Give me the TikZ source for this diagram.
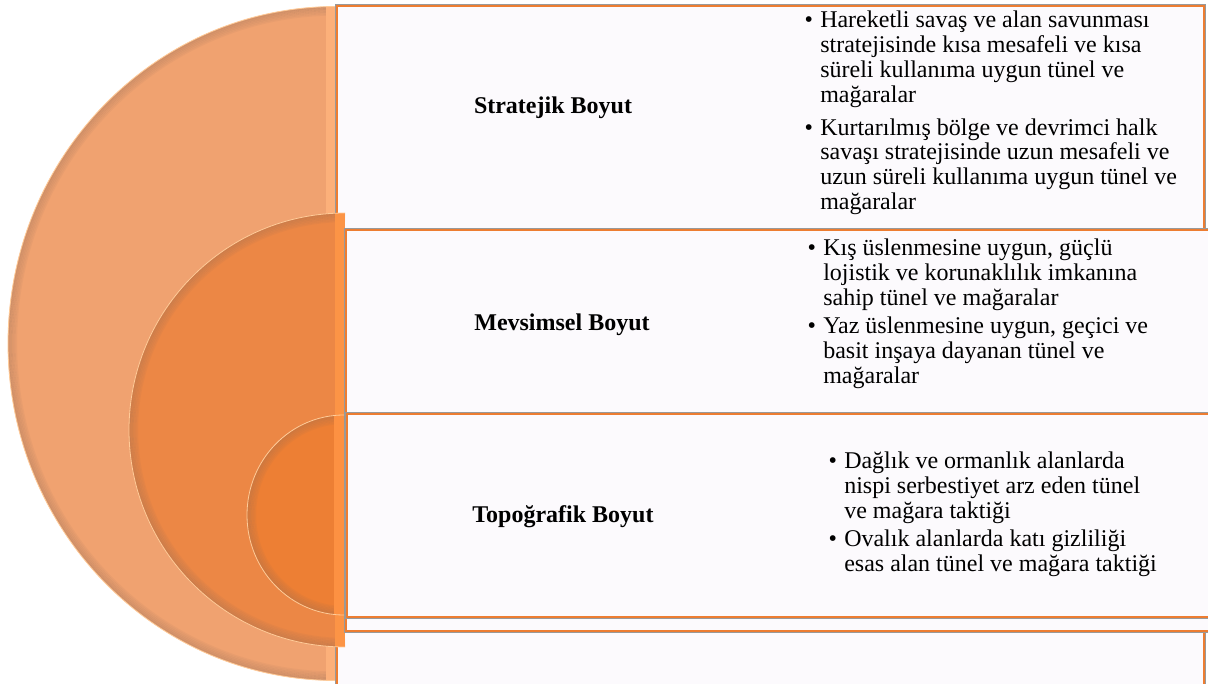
\documentclass[tikz,border=0pt]{standalone}
\usepackage{fontspec}
\setmainfont{Liberation Serif}
\definecolor{bigfill}{HTML}{F0A270}
\definecolor{bigstrip}{HTML}{FCB07A}
\definecolor{midfill}{HTML}{EC8745}
\definecolor{midstrip}{HTML}{FC9446}
\definecolor{smallfill}{HTML}{ED7F34}
\definecolor{smallstrip}{HTML}{FD9142}
\definecolor{shadowc}{HTML}{8C6A58}
\definecolor{rimc}{HTML}{FFCB98}
\definecolor{boxfill}{HTML}{FCFAFD}
\definecolor{boxline}{HTML}{ED7D31}
\newcommand\semidisc[6]{%
\begin{scope}
\clip (#1-#3-4,#2-#4-4) rectangle (#1,#2+#4+4);
\begin{scope}
\clip (#1,#2) ellipse[x radius=#3, y radius=#4];
\fill[#5] (#1-#3,#2-#4) rectangle (#1,#2+#4);
\foreach \k in {0,...,5}{\draw[shadowc, opacity={0.28-0.04*\k}, line width=1.2pt] (#1,#2) ellipse[x radius={#3-0.8-1.5*\k}, y radius={#4-0.8-1.5*\k}];}
\fill[#6] (#1-10,#2-#4) rectangle (#1,#2+#4);
\end{scope}
\draw[rimc, line width=0.6pt] (#1,#2) ellipse[x radius=#3, y radius=#4];
\end{scope}}
\newcommand\bodyfont{\fontsize{18}{18.6}\selectfont}
\newcommand\itm{\llap{\textbullet\hspace{5.5pt}}}
\begin{document}
\begin{tikzpicture}[x=0.75pt,y=-0.75pt,
  panel/.style={fill=boxfill, draw=boxline, line width=1.4pt},
  panelshadow/.style={draw=black!40, line width=2.4pt},
  txt/.style={inner sep=0pt, font=\bodyfont, anchor=base west},
  lbl/.style={inner sep=0pt, font=\bodyfont\bfseries}]
\useasboundingbox (0,0) rectangle (1208,684);
\clip (0,0) rectangle (1208,684);
\fill[white] (0,0) rectangle (1208,684);
% outer ring and panel
\semidisc{336}{343.5}{328}{337}{bigfill}{bigstrip}
\draw[panelshadow] (337,6) rectangle (1204,700);
\draw[panel] (337,6) rectangle (1204,700);
% middle ring and panel
\semidisc{345}{430}{216}{217}{midfill}{midstrip}
\draw[panelshadow] (346,230) rectangle (1216,631);
\draw[panel] (346,230) rectangle (1216,631);
% inner ring and panel
\semidisc{344}{515}{97}{100}{smallfill}{smallstrip}
\draw[panelshadow] (347,414) rectangle (1216,617);
\draw[panel] (347,414) rectangle (1216,617);
% labels
\node[lbl] (l1) at (553,108) {Stratejik Boyut};
\node[lbl] (l2) at (562,325) {Mevsimsel Boyut};
\node[lbl] (l3) at (563,517) {Topoğrafik Boyut};
% bullet texts
\node[txt] (t1) at (820,28) {\begin{tabular}[t]{@{}l@{}}
\itm Hareketli savaş ve alan savunması\\
stratejisinde kısa mesafeli ve kısa\\
süreli kullanıma uygun tünel ve\\
mağaralar\\[6pt]
\itm Kurtarılmış bölge ve devrimci halk\\
savaşı stratejisinde uzun mesafeli ve\\
uzun süreli kullanıma uygun tünel ve\\
mağaralar
\end{tabular}};
\node[txt] (t2) at (823,256) {\begin{tabular}[t]{@{}l@{}}
\itm Kış üslenmesine uygun, güçlü\\
lojistik ve korunaklılık imkanına\\
sahip tünel ve mağaralar\\[2.5pt]
\itm Yaz üslenmesine uygun, geçici ve\\
basit inşaya dayanan tünel ve\\
mağaralar
\end{tabular}};
\node[txt] (t3) at (844,469) {\begin{tabular}[t]{@{}l@{}}
\itm Dağlık ve ormanlık alanlarda\\
nispi serbestiyet arz eden tünel\\
ve mağara taktiği\\[2.5pt]
\itm Ovalık alanlarda katı gizliliği\\
esas alan tünel ve mağara taktiği
\end{tabular}};
\end{tikzpicture}
\end{document}
